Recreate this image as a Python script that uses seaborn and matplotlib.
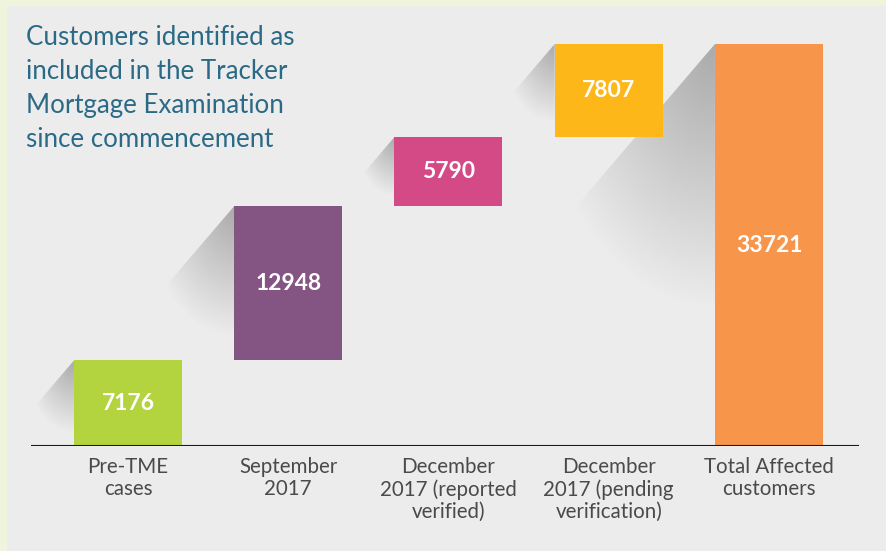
import numpy as np
import matplotlib.pyplot as plt
import seaborn as sns
from matplotlib.patches import Polygon, Rectangle

categories = ["Pre-TME\ncases", "September\n2017", "December\n2017 (reported\nverified)",
              "December\n2017 (pending\nverification)", "Total Affected\ncustomers"]
values = [7176, 12948, 5790, 7807, 33721]
is_total = [False, False, False, False, True]
colors = ["#b3d33f", "#845482", "#d44a87", "#fdb718", "#f7954a"]
title = "Customers identified as\nincluded in the Tracker\nMortgage Examination\nsince commencement"

# waterfall bases
bases = []
running = 0
for v, tot in zip(values, is_total):
    if tot:
        bases.append(0)
    else:
        bases.append(running)
        running += v

sns.set_theme(style="white")
plt.rcParams["font.family"] = ["Lato", "DejaVu Sans"]

fig = plt.figure(figsize=(8.86, 5.51), dpi=100)
fig.patch.set_facecolor("#eff5dc")
fig.patches.append(Rectangle((7 / 886, 0), 1, 1 - 6 / 551, transform=fig.transFigure,
                             facecolor="#ececec", edgecolor="none", zorder=-10))

ax = fig.add_axes([31 / 886, 105 / 551, 828 / 886, 402 / 551])
ax.set_zorder(2)
ax.set_facecolor("none")

bar_w = 0.674
sns.barplot(x=categories, y=values, bottom=bases, width=bar_w, color=colors[0],
            saturation=1, errorbar=None, linewidth=0, zorder=3, ax=ax)
for patch, c in zip(ax.patches, colors):
    patch.set_facecolor(c)

xlim = (-0.605, 4.562)
ylim = (0, max(values))
ax.set_xlim(*xlim)
ax.set_ylim(*ylim)

# long shadows to the left of each bar
px_x = 828 / (xlim[1] - xlim[0])
px_y = 402 / (ylim[1] - ylim[0])
for i, (v, b) in enumerate(zip(values, bases)):
    x0 = i - bar_w / 2
    top = b + v
    h_px = v * px_y
    depth = min(0.85 * h_px, 265)
    dx = 0.68 * depth
    slope = 1.17
    poly = [(x0, top), (x0 - dx / px_x, top - slope * dx / px_y),
            (x0 - dx / px_x, top - depth / px_y), (x0, top - depth / px_y)]
    gx = np.linspace(-dx, 0, 150)
    gy = np.linspace(0, depth, 150)
    GX, GY = np.meshgrid(gx, gy)
    r = np.sqrt((GX / dx) ** 2 + (GY / depth) ** 2)
    alpha = 0.36 * np.clip(1 - r, 0, 1) ** 1.0
    img = np.zeros((150, 150, 4))
    img[..., :3] = 0.2
    img[..., 3] = alpha
    im = ax.imshow(img, extent=(x0 - dx / px_x, x0, top - depth / px_y, top),
                   origin="upper", aspect="auto", zorder=1, interpolation="bilinear")
    clip = Polygon(poly, closed=True, transform=ax.transData)
    im.set_clip_path(clip)
    ax.text(i, b + v / 2, str(v), ha="center", va="center", color="white",
            fontsize=16.5, fontweight="bold", zorder=4)

ax.set_xlim(*xlim)
ax.set_ylim(*ylim)
ax.axhline(0, color="#1a1a1a", lw=1.5, zorder=5)
sns.despine(ax=ax, left=True, bottom=True)
ax.set_yticks([])
ax.set_xlabel("")
ax.tick_params(axis="x", length=0, pad=8, labelsize=14.8, labelcolor="#4a4a4a")
for lab in ax.get_xticklabels():
    lab.set_linespacing(1.12)

fig.text(26 / 886, 1 - 25 / 551, title, ha="left", va="top", fontsize=18.6,
         color="#2b6a86", linespacing=1.45, zorder=3)

fig.savefig("out.png", dpi=100, facecolor=fig.get_facecolor())
